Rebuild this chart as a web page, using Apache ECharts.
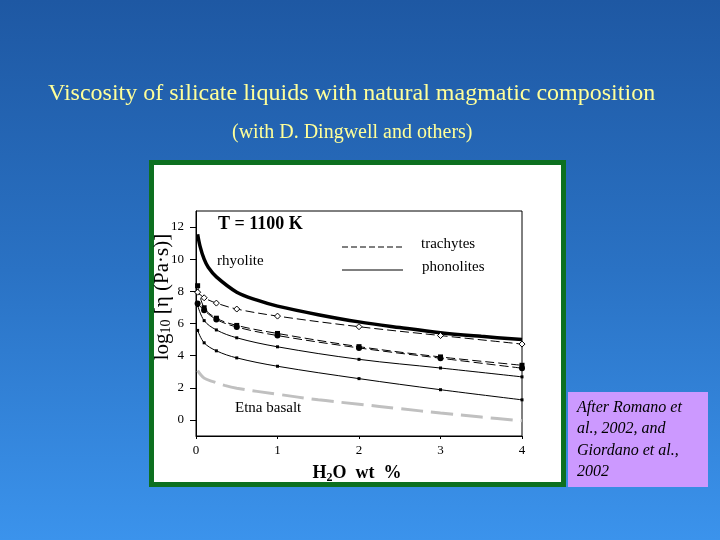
<!DOCTYPE html>
<html>
<head>
<meta charset="utf-8">
<script src="https://cdn.jsdelivr.net/npm/echarts@6/dist/echarts.min.js"></script>
<style>
html,body{margin:0;padding:0;width:720px;height:540px;overflow:hidden;}
#c{width:720px;height:540px;}
</style>
</head>
<body>
<div id="c"></div>
<script>
// ---- data ----
const xTicks = [0, 1, 2, 3, 4];
const yTicks = [0, 2, 4, 6, 8, 10, 12];

const rhyoliteX = [0.02, 0.05, 0.1, 0.15, 0.25, 0.5, 0.75, 1, 1.5, 2, 2.5, 3, 3.5, 4];
const rhyoliteY = [11.55, 10.8, 10.0, 9.5, 8.9, 7.95, 7.45, 7.08, 6.55, 6.1, 5.75, 5.43, 5.2, 5.0];

const sampleX = [0.02, 0.1, 0.25, 0.5, 1, 2, 3, 4];
const trachyte1 = [7.95, 7.6, 7.27, 6.9, 6.46, 5.8, 5.25, 4.72];
const trachyte2 = [8.35, 6.98, 6.33, 5.88, 5.38, 4.56, 3.92, 3.4];
const trachyte3 = [7.25, 6.82, 6.25, 5.78, 5.25, 4.48, 3.84, 3.22];
const phonolite1 = [7.12, 6.18, 5.6, 5.11, 4.55, 3.77, 3.23, 2.68];
const phonolite2 = [5.57, 4.8, 4.3, 3.86, 3.34, 2.57, 1.88, 1.25];

const etnaX = [0.02, 0.1, 0.2, 0.35, 0.5, 1, 1.5, 2, 2.5, 3, 3.5, 4];
const etnaY = [3.07, 2.6, 2.4, 2.15, 1.97, 1.6, 1.25, 0.98, 0.7, 0.43, 0.18, -0.05];

const titleText = 'Viscosity of silicate liquids with natural magmatic composition';
const subtitleText = '(with D. Dingwell and others)';
const noteLines = ['After Romano et', 'al., 2002, and', 'Giordano et al.,', '2002'];

// ---- build ----
const zip = (xs, ys) => xs.map((x, i) => [x, ys[i]]);
const serif = '"Liberation Serif", "Times New Roman", serif';

const chart = echarts.init(document.getElementById('c'), null, {renderer: 'canvas'});

function lineSeries(name, xs, ys, opts) {
  return Object.assign({
    name: name,
    type: 'line',
    data: zip(xs, ys),
    smooth: 0.35,
    z: 5,
    animation: false
  }, opts);
}

const option = {
  animation: false,
  backgroundColor: new echarts.graphic.LinearGradient(0, 0, 0, 1, [
    {offset: 0, color: '#1e58a3'},
    {offset: 0.5, color: '#2a72c4'},
    {offset: 1, color: '#3b93ec'}
  ]),
  title: [
    {text: titleText, left: 43, top: 77,
     textStyle: {color: '#ffff99', fontFamily: serif, fontSize: 24, fontWeight: 'normal'}},
    {text: subtitleText, left: 227, top: 118,
     textStyle: {color: '#ffff99', fontFamily: serif, fontSize: 20, fontWeight: 'normal'}}
  ],
  graphic: [
    {type: 'rect', z: -10, shape: {x: 151.5, y: 162.5, width: 412, height: 322},
     style: {fill: '#ffffff', stroke: '#0d7020', lineWidth: 5}},
    {type: 'rect', z: -10, shape: {x: 568, y: 392, width: 140, height: 95},
     style: {fill: '#cc99ff'}},
    {type: 'text', z: 10, left: 577, top: 397,
     style: {text: noteLines.join('\n'), font: 'italic 16px ' + serif, fill: '#000', lineHeight: 21.5}},
    {type: 'text', z: 10, x: 162, y: 297, rotation: Math.PI / 2,
     style: {text: '{a|log}{s|10}{a| [η (Pa·s)]}', align: 'center', verticalAlign: 'middle',
       rich: {a: {fontFamily: serif, fontSize: 21, color: '#000'},
              s: {fontFamily: serif, fontSize: 14, color: '#000', padding: [9, 0, 0, 0]}}}},
    {type: 'text', z: 10, x: 357, y: 473,
     style: {text: '{a|H}{s|2}{a|O  wt  %}', align: 'center', verticalAlign: 'middle',
       rich: {a: {fontFamily: serif, fontSize: 18, fontWeight: 'bold', color: '#000'},
              s: {fontFamily: serif, fontSize: 12, fontWeight: 'bold', color: '#000', padding: [10, 0, 0, 0]}}}},
    {type: 'text', z: 10, left: 218, top: 215,
     style: {text: 'T = 1100 K', font: 'bold 18px ' + serif, fill: '#000'}},
    {type: 'text', z: 10, left: 217, top: 254,
     style: {text: 'rhyolite', font: '15px ' + serif, fill: '#000'}},
    {type: 'text', z: 10, left: 421, top: 237,
     style: {text: 'trachytes', font: '15px ' + serif, fill: '#000'}},
    {type: 'text', z: 10, left: 422, top: 260,
     style: {text: 'phonolites', font: '15px ' + serif, fill: '#000'}},
    {type: 'text', z: 10, left: 235, top: 401,
     style: {text: 'Etna basalt', font: '15px ' + serif, fill: '#000'}},
    {type: 'line', z: 10, shape: {x1: 342, y1: 247, x2: 403, y2: 247},
     style: {stroke: '#000', lineWidth: 1, lineDash: [6, 3]}},
    {type: 'line', z: 10, shape: {x1: 342, y1: 270, x2: 403, y2: 270},
     style: {stroke: '#000', lineWidth: 1}}
  ],
  grid: {left: 196, right: 198, top: 211, bottom: 104, show: true,
         borderColor: '#000', borderWidth: 1, backgroundColor: 'transparent', containLabel: false},
  xAxis: {
    type: 'value', min: 0, max: 4,
    axisLine: {show: true, onZero: false, lineStyle: {color: '#000', width: 1}},
    axisTick: {show: true, length: 3, customValues: xTicks, lineStyle: {color: '#000'}},
    axisLabel: {customValues: xTicks, color: '#000', fontFamily: serif, fontSize: 13, margin: 8},
    splitLine: {show: false}
  },
  yAxis: {
    type: 'value', min: -1, max: 13, splitNumber: 7,
    axisLine: {show: true, lineStyle: {color: '#000', width: 1}},
    axisTick: {show: true, length: 6, customValues: yTicks, lineStyle: {color: '#000'}},
    axisLabel: {customValues: yTicks, color: '#000', fontFamily: serif, fontSize: 13, margin: 12},
    splitLine: {show: false}
  },
  series: [
    lineSeries('Etna basalt', etnaX, etnaY, {
      symbol: 'none', lineStyle: {color: '#c0c0c0', width: 3, type: [22, 8]}}),
    lineSeries('phonolite 2', sampleX, phonolite2, {
      symbol: 'rect', symbolSize: 3, itemStyle: {color: '#000'}, lineStyle: {color: '#000', width: 1}}),
    lineSeries('phonolite 1', sampleX, phonolite1, {
      symbol: 'rect', symbolSize: 3, itemStyle: {color: '#000'}, lineStyle: {color: '#000', width: 1}}),
    lineSeries('trachyte 3', sampleX, trachyte3, {
      symbol: 'circle', symbolSize: 6, itemStyle: {color: '#000'}, lineStyle: {color: '#000', width: 1, type: [9, 4]}}),
    lineSeries('trachyte 2', sampleX, trachyte2, {
      symbol: 'rect', symbolSize: 5, itemStyle: {color: '#000'}, lineStyle: {color: '#000', width: 1, type: [9, 4]}}),
    lineSeries('trachyte 1', sampleX, trachyte1, {
      symbol: 'diamond', symbolSize: 6, showSymbol: true,
      itemStyle: {color: '#fff', borderColor: '#000', borderWidth: 1},
      lineStyle: {color: '#000', width: 1, type: [9, 4]}}),
    lineSeries('rhyolite', rhyoliteX, rhyoliteY, {
      symbol: 'none', lineStyle: {color: '#000', width: 3.5}})
  ]
};
chart.setOption(option);
</script>
</body>
</html>
